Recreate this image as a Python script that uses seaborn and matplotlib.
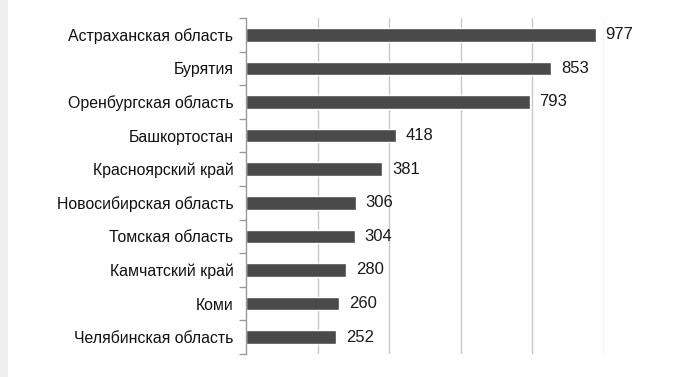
import numpy as np
import seaborn as sns
import matplotlib.pyplot as plt
import pandas as pd
from matplotlib.patches import Rectangle

regions = ["Астраханская область", "Бурятия", "Оренбургская область", "Башкортостан",
           "Красноярский край", "Новосибирская область", "Томская область",
           "Камчатский край", "Коми", "Челябинская область"]
values = [977, 853, 793, 418, 381, 306, 304, 280, 260, 252]

df = pd.DataFrame({"region": regions, "value": values})

sns.set_theme(style="white")
plt.rcParams['font.family'] = ['Liberation Sans', 'DejaVu Sans']

fig = plt.figure(figsize=(6.84, 3.77), dpi=100)
fig.patches.append(Rectangle((0, 0), 8 / 684, 1, transform=fig.transFigure,
                             facecolor='#efefef', edgecolor='none', zorder=0))
ax = fig.add_axes([246 / 684, 23 / 377, 358 / 684, 336 / 377])

sns.barplot(data=df, x="value", y="region", orient="h", color="#4a4a4a",
            width=0.4, saturation=1, ax=ax)

for i, v in enumerate(values):
    ax.annotate(str(v), xy=(v, i), xytext=(7, 0), textcoords='offset points',
                va='center', ha='left', fontsize=12, color='#1a1a1a')

ax.set_xlim(0, 1000)
ax.set_ylim(9.5, -0.5)
ax.set_xticks([200, 400, 600, 800, 1000])
ax.set_xticklabels([])
ax.tick_params(axis='x', length=0)
ax.xaxis.grid(True, color='#c8c8c8', linewidth=1)
ax.set_axisbelow(True)

ax.set_yticks(range(len(regions)))
ax.set_yticklabels(regions, fontsize=11.45, color='#111111')
ax.set_yticks(np.arange(-0.5, len(regions), 1), minor=True)
ax.tick_params(axis='y', which='major', left=False, length=0, pad=9)
ax.tick_params(axis='y', which='minor', left=True, length=5, color='#999999', width=1)

ax.set_xlabel("")
ax.set_ylabel("")
for s in ['top', 'right', 'bottom']:
    ax.spines[s].set_visible(False)
ax.spines['left'].set_color('#999999')
ax.spines['left'].set_linewidth(1)

fig.savefig("out.png", dpi=100)
